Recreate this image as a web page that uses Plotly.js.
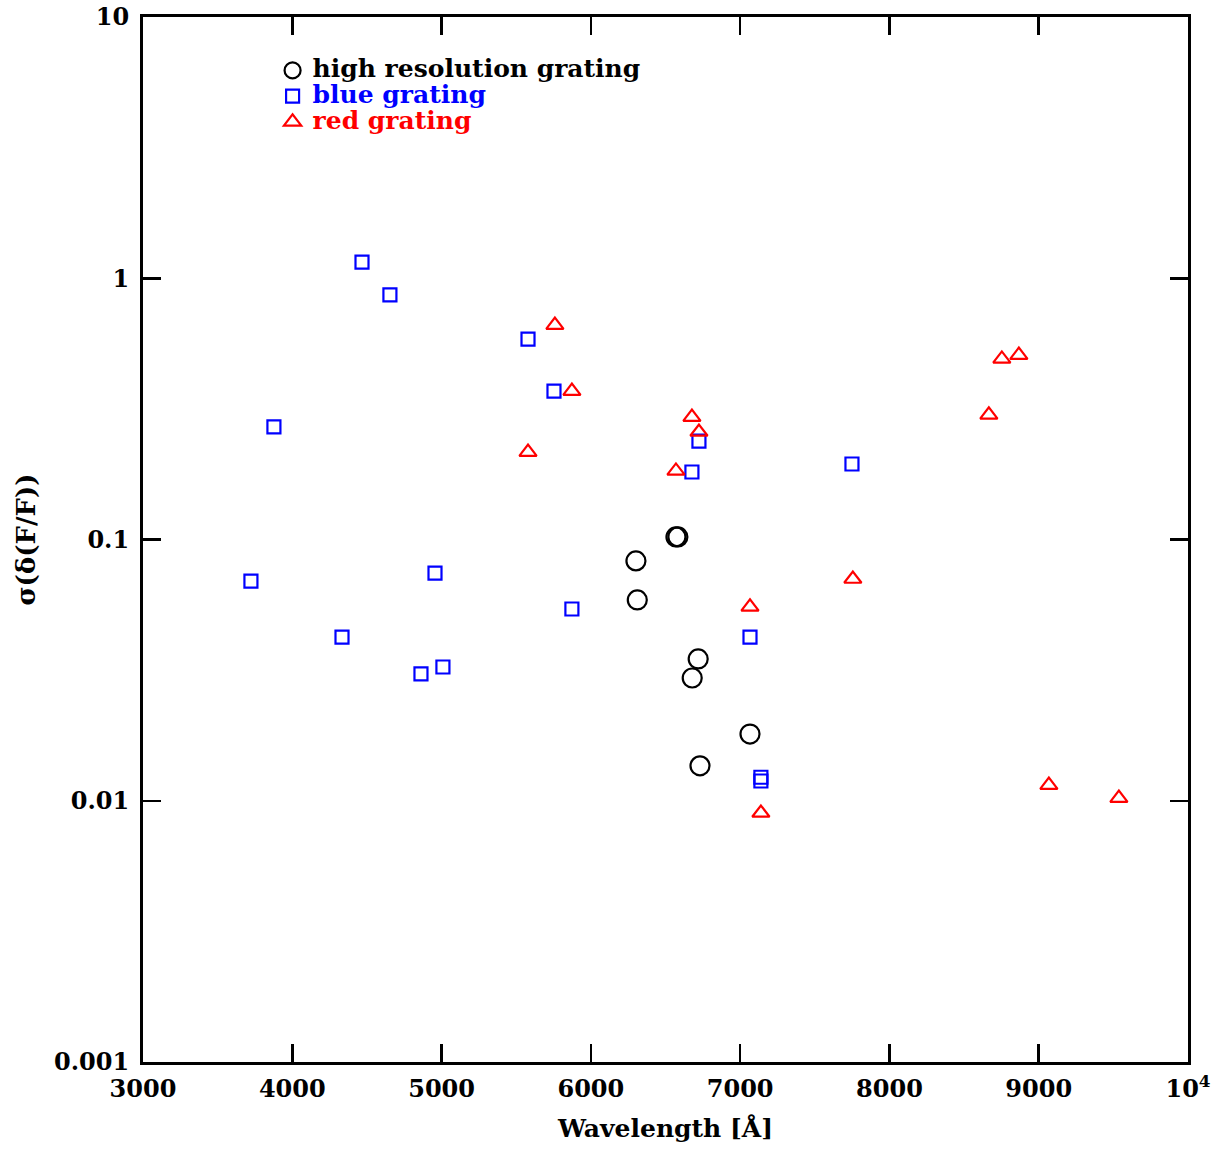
<!DOCTYPE html>
<html><head><meta charset="utf-8">
<script src="https://cdn.plot.ly/plotly-3.0.1.min.js"></script>
<style>body{margin:0;background:#fff}</style>
</head><body>
<div id="chart" style="width:1221px;height:1150px"></div>
<script>
// High resolution grating (circles)
const hiresWave = [6570, 6583, 6302, 6311, 6719, 6679, 7066, 6731];
const hiresSigma = [0.1023, 0.1023, 0.0828, 0.0587, 0.0349, 0.0295, 0.0180, 0.0136];
// Blue grating (squares)
const blueWave = [3723, 3877, 4333, 4467, 4654, 4862, 4956, 5009, 5579, 5753, 5873, 6677, 6724, 7066, 7139, 7139, 7749];
const blueSigma = [0.0693, 0.270, 0.0423, 1.153, 0.863, 0.0306, 0.0744, 0.0325, 0.585, 0.370, 0.0542, 0.1813, 0.238, 0.0423, 0.0123, 0.0119, 0.1945];
// Red grating (triangles)
const redWave = [5759, 5873, 5579, 6677, 6724, 6570, 7066, 7139, 7755, 8666, 8753, 8867, 9068, 9537];
const redSigma = [0.662, 0.370, 0.216, 0.294, 0.258, 0.183, 0.0552, 0.00898, 0.0706, 0.300, 0.491, 0.508, 0.01148, 0.01024];

const xTickVals = [3000, 4000, 5000, 6000, 7000, 8000, 9000, 10000];
const xTickText = ['3000', '4000', '5000', '6000', '7000', '8000', '9000', '10<sup>4</sup>'];
const yTickVals = [0.001, 0.01, 0.1, 1, 10];
const yTickText = ['0.001', '0.01', '0.1', '1', '10'];

const FONT = '"DejaVu Serif", serif';
function lbl(t, c) { return '<span style="font-size:25px;fill:' + c + '">' + t + '</span>'; }

const traces = [
  {x: hiresWave, y: hiresSigma, mode: 'markers', type: 'scatter', name: lbl('<b>high resolution grating</b>', 'black'),
   marker: {symbol: 'circle-open', size: 19, color: 'black', line: {width: 2.2, color: 'black'}}},
  {x: blueWave, y: blueSigma, mode: 'markers', type: 'scatter', name: lbl('<b>blue grating</b>', 'blue'),
   marker: {symbol: 'square-open', size: 13, color: 'blue', line: {width: 2.2, color: 'blue'}}},
  {x: redWave, y: redSigma, mode: 'markers', type: 'scatter', name: lbl('<b>red grating</b>', 'red'),
   marker: {symbol: 'triangle-up-open', size: 15, color: 'red', line: {width: 2.2, color: 'red'}}}
];

const axisCommon = {
  showline: true, linewidth: 3, linecolor: 'black', mirror: 'ticks',
  ticks: 'inside', ticklen: 18, tickwidth: 2.5, tickcolor: 'black',
  showgrid: false, zeroline: false,
  tickfont: {family: FONT, size: 24, color: 'black', weight: 'bold'}
};

const layout = {
  width: 1221, height: 1150,
  margin: {l: 143, r: 33, t: 17, b: 88},
  paper_bgcolor: 'white', plot_bgcolor: 'white',
  font: {family: FONT, color: 'black'},
  showlegend: true,
  legend: {x: 0.124, y: 0.966, xanchor: 'left', yanchor: 'top', bgcolor: 'rgba(0,0,0,0)',
           font: {family: FONT, size: 17.5, color: 'black', weight: 'bold'}, tracegroupgap: 0, itemwidth: 30},
  xaxis: Object.assign({}, axisCommon, {
    range: [3000, 10000], tickmode: 'array', tickvals: xTickVals, ticktext: xTickText,
    ticklabelstandoff: 3,
    title: {text: '<b>Wavelength [Å]</b>', font: {family: FONT, size: 25, color: 'black'}, standoff: 18}
  }),
  yaxis: Object.assign({}, axisCommon, {
    type: 'log', range: [-3, 1], tickmode: 'array', tickvals: yTickVals, ticktext: yTickText,
    ticklabelstandoff: 6,
    title: {text: '<b>σ(δ(F/F))</b>', font: {family: FONT, size: 26, color: 'black'}, standoff: 11}
  })
};

Plotly.newPlot('chart', traces, layout, {staticPlot: true});
</script>
</body></html>
